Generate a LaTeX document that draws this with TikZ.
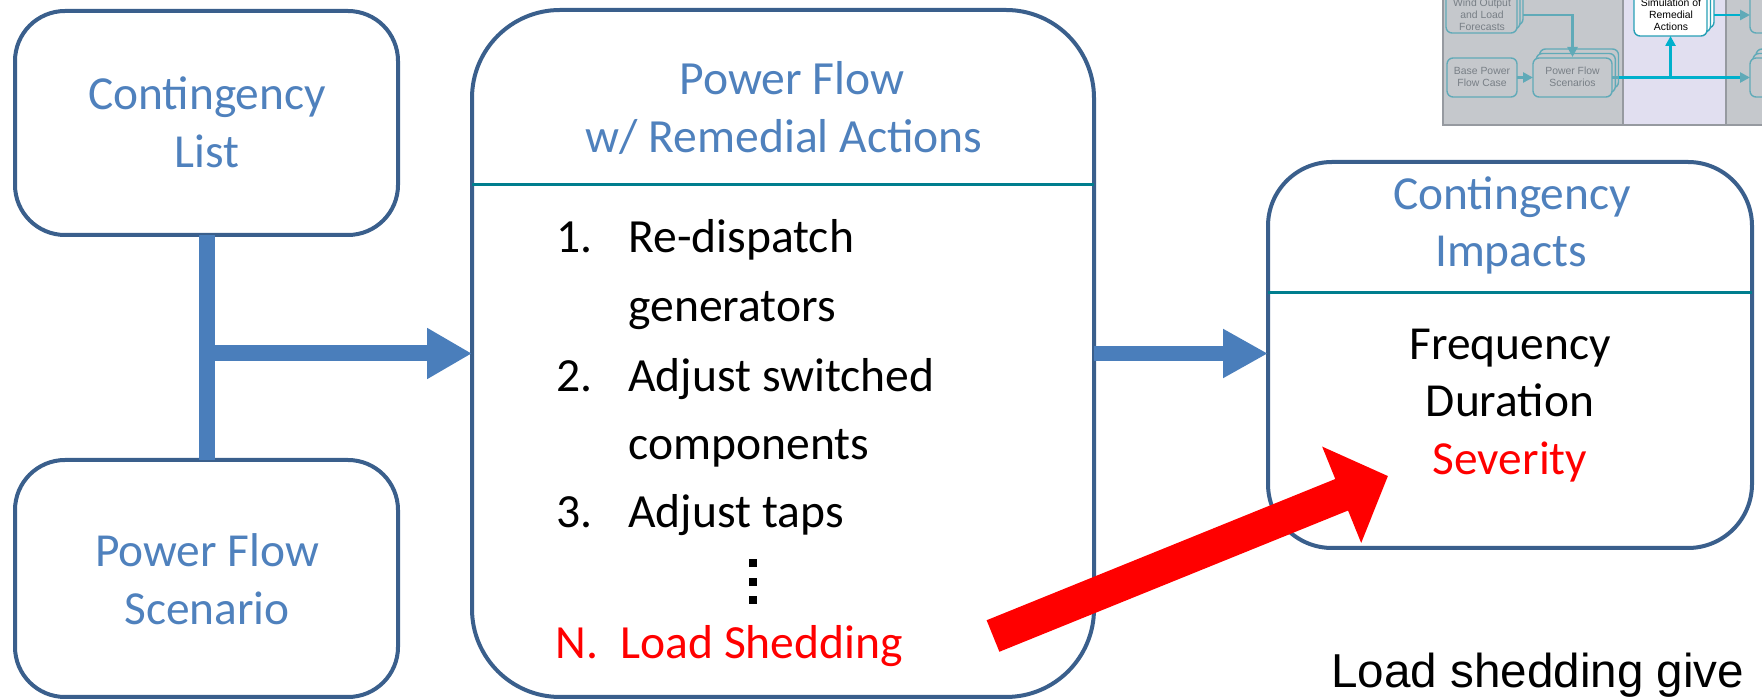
\documentclass[tikz,border=0pt]{standalone}
\usepackage{fontspec}
\setmainfont{Carlito}
\newfontfamily\arialfont{Liberation Sans}
\usetikzlibrary{arrows.meta,calc}
\definecolor{boxborder}{RGB}{58,95,140}
\definecolor{titleblue}{RGB}{79,129,189}
\definecolor{arrowblue}{RGB}{74,126,187}
\definecolor{divteal}{RGB}{0,126,142}
\definecolor{panelgrey}{RGB}{197,200,204}
\definecolor{panellav}{RGB}{225,223,240}
\definecolor{paneledge}{RGB}{150,154,160}
\definecolor{mutedteal}{RGB}{96,170,184}
\definecolor{brightcyan}{RGB}{0,176,204}
\definecolor{simedge}{RGB}{40,160,182}
\definecolor{insettext}{RGB}{120,127,134}
\tikzset{
  box/.style={draw=boxborder, line width=2pt, fill=white, rounded corners=25pt, outer sep=0pt, inner sep=0pt},
  titletext/.style={text=titleblue, font=\fontsize{23.7}{28}\selectfont, anchor=base, inner sep=0pt},
  midtitle/.style={text=titleblue, font=\fontsize{23.8}{28}\selectfont, anchor=base, inner sep=0pt},
  bodytext/.style={text=black, font=\fontsize{23.7}{28}\selectfont, anchor=base, inner sep=0pt},
  listtext/.style={font=\fontsize{23.8}{28}\selectfont, anchor=base west, inner sep=0pt},
  flow/.style={draw=arrowblue, line width=8pt},
  ibox/.style={draw=mutedteal, line width=0.7pt, rounded corners=3pt, fill=panelgrey, outer sep=0pt, inner sep=0pt},
  itext/.style={font=\arialfont\fontsize{5.2}{6}\selectfont, text=insettext, anchor=base, inner sep=0pt},
  marrow/.style={draw=mutedteal, line width=1.3pt, -{Triangle[length=5pt,width=5pt]}},
  barrow/.style={draw=brightcyan, line width=1.3pt},
}
\begin{document}
\begin{tikzpicture}[x=0.5pt,y=-0.5pt]
\useasboundingbox (0,0) rectangle (1762,699);

% ---------- inset thumbnail (top right) ----------
\fill[panelgrey] (1443,-4) rectangle (1623,125);
\fill[panellav] (1623,-4) rectangle (1726,125);
\fill[panelgrey] (1726,-4) rectangle (1770,125);
\draw[paneledge, line width=0.9pt] (1443,-4) -- (1443,125) -- (1770,125);
\draw[paneledge, line width=0.6pt] (1623,-4) -- (1623,125) (1726,-4) -- (1726,125);

% stacked back cards
\node[ibox, minimum width=35.5pt, minimum height=22.5pt] (windc2) at (1487.5,2.5) {};
\node[ibox, minimum width=35.5pt, minimum height=22.5pt] (windc1) at (1484.5,6.5) {};
\node[ibox, minimum width=35.5pt, minimum height=22.5pt] (wind) at (1481.5,10.5) {};
\node[ibox, minimum width=35pt, minimum height=19.5pt] (base) at (1482,77.5) {};
\node[ibox, minimum width=39.5pt, minimum height=19.5pt] (pfc2) at (1579,68.5) {};
\node[ibox, minimum width=39.5pt, minimum height=19.5pt] (pfc1) at (1575.8,73) {};
\node[ibox, minimum width=39.5pt, minimum height=19.5pt] (pfsc) at (1572.5,77.5) {};
\node[ibox, draw=simedge, fill=white, minimum width=36.5pt, minimum height=24pt] (simc2) at (1677.5,4) {};
\node[ibox, draw=simedge, fill=white, minimum width=36.5pt, minimum height=24pt] (simc1) at (1674,8) {};
\node[ibox, draw=simedge, fill=white, minimum width=36.5pt, minimum height=24pt] (sim) at (1670.5,12) {};
\node[ibox, minimum width=25pt, minimum height=22.5pt] (r1) at (1775,10.5) {};
\node[ibox, minimum width=25pt, minimum height=19.5pt] (r2c2) at (1781,68.5) {};
\node[ibox, minimum width=25pt, minimum height=19.5pt] (r2c1) at (1778,73) {};
\node[ibox, minimum width=25pt, minimum height=19.5pt] (r2) at (1775,77.5) {};

\node[itext] (tw1) at (1482,7) {Wind Output};
\node[itext] (tw2) at (1482,19) {and Load};
\node[itext] (tw3) at (1482,31) {Forecasts};
\node[itext] (tb1) at (1482,75) {Base Power};
\node[itext] (tb2) at (1482,87) {Flow Case};
\node[itext] (tp1) at (1572.5,75) {Power Flow};
\node[itext] (tp2) at (1572.5,87) {Scenarios};
\node[itext, text=black] (ts1) at (1671,7) {Simulation of};
\node[itext, text=black] (ts2) at (1671,19) {Remedial};
\node[itext, text=black] (ts3) at (1671,31) {Actions};

\coordinate (wout) at ($(windc2.east)+(0,12.5)$);
\draw[marrow] (wout) -| ($(pfsc.north)+(0,-1)$);
\draw[marrow, line width=1.6pt] (base.east) -- (pfsc.west);
\draw[barrow, -{Triangle[length=5pt,width=5pt,color=mutedteal]}] (pfc2.east |- pfsc.east) -- (r2.west);
\draw[draw=mutedteal, line width=1.3pt] (pfsc.east) -- (pfc2.east |- pfsc.east);
\coordinate (br) at (sim.south |- pfsc.east);
\draw[barrow, -{Triangle[length=5pt,width=5pt]}] (br) -- (sim.south);
\coordinate (sout) at ($(simc2.east)+(0,11)$);
\draw[barrow, -{Triangle[length=5pt,width=5pt,color=mutedteal]}] (sout) -- (sout -| r1.west);

% ---------- main diagram ----------
\node[box, minimum width=191.5pt, minimum height=112pt] (cl) at (206.5,123) {};
\node[box, minimum width=191.5pt, minimum height=118.5pt] (pfs) at (206.5,578.5) {};
\node[box, rounded corners=44pt, minimum width=311pt, minimum height=343.5pt] (mid) at (783,353.5) {};
\node[box, rounded corners=32pt, minimum width=242pt, minimum height=193pt] (imp) at (1510,355) {};

\draw[divteal, line width=1.5pt] (mid.west |- 0,185) -- (mid.east |- 0,185);
\draw[divteal, line width=1.5pt] (imp.west |- 0,293) -- (imp.east |- 0,293);

% connectors
\draw[flow] (cl.south) -- (pfs.north);
\coordinate (j) at (cl.south |- mid.west);
\draw[flow, -{Triangle[length=22.5pt,width=24pt]}] (j) -- (mid.west);
\draw[flow, line width=7.5pt, -{Triangle[length=22.5pt,width=23pt]}] (mid.east) -- (mid.east -| imp.west);

% texts left
\node[titletext] (cl1) at (207,110) {Contingency};
\node[titletext] (cl2) at (207,168) {List};
\node[titletext] (pf1) at (207,567) {Power Flow};
\node[titletext] (pf2) at (207,625) {Scenario};

% middle box
\node[midtitle] (mt1) at (792,95) {Power Flow};
\node[midtitle] (mt2) at (784,153) {w/ Remedial Actions};
\node[listtext] (n1) at (556,253) {1.};
\node[listtext] (i1a) at (628,253) {Re-dispatch};
\node[listtext] (i1b) at (628,322) {generators};
\node[listtext] (n2) at (556,392) {2.};
\node[listtext] (i2a) at (628,392) {Adjust switched};
\node[listtext] (i2b) at (628,460) {components};
\node[listtext] (n3) at (556,528) {3.};
\node[listtext] (i3) at (628,528) {Adjust taps};
\fill (749,559) rectangle (757,567);
\fill (749,578) rectangle (757,586);
\fill (749,596) rectangle (757,604);
\node[listtext, text=red] (nN) at (555,659) {N.};
\node[listtext, text=red] (iN) at (620,659) {Load Shedding};

% right box
\node[titletext] (ci1) at (1512,210) {Contingency};
\node[titletext] (ci2) at (1511,267) {Impacts};
\node[bodytext] (f1) at (1510,360) {Frequency};
\node[bodytext] (f2) at (1510,417) {Duration};
\node[bodytext, text=red] (f3) at (1510,475) {Severity};

% red arrow
\coordinate (rs) at (993,636);
\coordinate (re) at (1388,476);
\draw[red, line width=17pt, -{Triangle[length=25pt,width=50.5pt]}] (rs) -- (re);

% note
\node[font=\arialfont\fontsize{23.8}{28}\selectfont, anchor=base west, inner sep=0pt] (note) at (1331,688) {Load shedding give};
\end{tikzpicture}
\end{document}
